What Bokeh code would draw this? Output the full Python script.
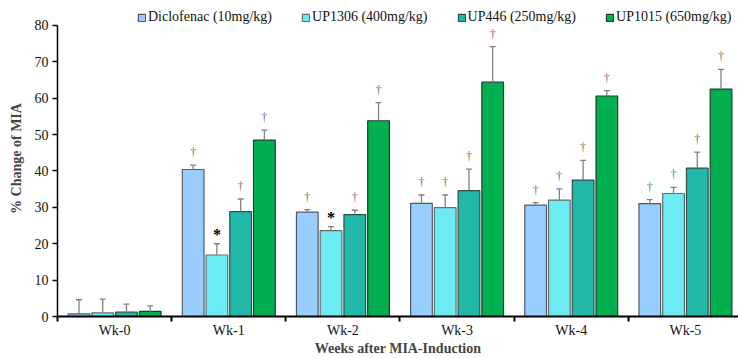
from bokeh.plotting import figure
from bokeh.models import Range1d, FixedTicker, Legend, LegendItem
from bokeh.core.properties import value
from bokeh.embed import file_html
from bokeh.resources import INLINE

weeks = ["Wk-0", "Wk-1", "Wk-2", "Wk-3", "Wk-4", "Wk-5"]
series = ["Diclofenac (10mg/kg)", "UP1306 (400mg/kg)", "UP446 (250mg/kg)", "UP1015 (650mg/kg)"]

diclofenac = [0.7, 40.4, 28.7, 31.1, 30.6, 31.0]
diclofenac_err = [3.9, 1.2, 0.7, 2.3, 0.7, 1.1]
up1306 = [1.0, 16.9, 23.6, 29.9, 32.0, 33.8]
up1306_err = [3.8, 3.1, 1.1, 3.5, 3.1, 1.7]
up446 = [1.2, 28.8, 28.0, 34.6, 37.5, 40.8]
up446_err = [2.2, 3.5, 1.2, 5.9, 5.4, 4.4]
up1015 = [1.4, 48.5, 53.8, 64.4, 60.6, 62.5]
up1015_err = [1.5, 2.7, 5.0, 9.8, 1.5, 5.4]

diclofenac_sig = ["", "†", "†", "†", "†", "†"]
up1306_sig = ["", "*", "*", "†", "†", "†"]
up446_sig = ["", "†", "†", "†", "†", "†"]
up1015_sig = ["", "†", "†", "†", "†", "†"]

y_ticks = [0, 10, 20, 30, 40, 50, 60, 70, 80]

values = [diclofenac, up1306, up446, up1015]
errors = [diclofenac_err, up1306_err, up446_err, up1015_err]
sigs = [diclofenac_sig, up1306_sig, up446_sig, up1015_sig]

fills = ["#99CCFF", "#6CECF2", "#22B8A8", "#00B050"]
outlines = ["#505A66", "#6A6A6A", "#2F4F4A", "#1F3F2A"]
offsets = [-0.312, -0.104, 0.104, 0.312]
bar_w = 0.19
FONT = "Liberation Serif"
FS = "14px"

# frame spans the full height above the x axis; the y axis itself is bounded to 0..80
p = figure(width=738, height=358, x_range=Range1d(0, 5.965), y_range=Range1d(0, 86.85),
           output_backend="svg", toolbar_location=None,
           min_border_left=57, min_border_right=0, min_border_top=0, min_border_bottom=41)
p.outline_line_color = None
p.xgrid.visible = False
p.ygrid.visible = False
p.background_fill_color = "white"

items = []
for k in range(4):
    xs = [i + 0.5 + offsets[k] for i in range(len(weeks))]
    vals = values[k]
    tops = [v + e for v, e in zip(vals, errors[k])]
    r = p.vbar(x=xs, top=vals, bottom=0, width=bar_w, fill_color=fills[k],
               line_color=outlines[k], line_width=1.2)
    items.append(LegendItem(label=series[k], renderers=[r]))
    p.segment(x0=xs, y0=vals, x1=xs, y1=tops, line_color="#808080", line_width=1.3)
    p.scatter(x=xs, y=tops, marker="dash", size=6, line_color="#808080", line_width=1.3)
    dag_x = [x for x, s in zip(xs, sigs[k]) if s == "†"]
    dag_y = [t for t, s in zip(tops, sigs[k]) if s == "†"]
    p.text(x=dag_x, y=dag_y, text=["†"] * len(dag_x), text_align="center",
           text_baseline="bottom", y_offset=-6, text_font=value(FONT),
           text_font_size="12px", text_color="#707070")
    st_x = [x for x, s in zip(xs, sigs[k]) if s == "*"]
    st_y = [t for t, s in zip(tops, sigs[k]) if s == "*"]
    if st_x:
        p.text(x=st_x, y=st_y, text=["*"] * len(st_x), text_align="center",
               text_baseline="bottom", y_offset=-1, text_font=value(FONT),
               text_font_size="16px", text_font_style="bold", text_color="#000000")

legend = Legend(items=items, orientation="horizontal", location=(80, 291),
                glyph_width=9, glyph_height=9, label_standoff=2, spacing=29,
                padding=0, margin=0, border_line_color=None, background_fill_alpha=0,
                label_text_font=FONT, label_text_font_size=FS, label_height=10,
                label_text_color="#111111")
p.add_layout(legend, "center")

# x axis
p.xaxis.ticker = FixedTicker(ticks=[i + 0.5 for i in range(len(weeks))],
                             minor_ticks=list(range(len(weeks) + 1)))
p.xaxis.major_label_overrides = {i + 0.5: w for i, w in enumerate(weeks)}
p.xaxis.major_tick_out = 0
p.xaxis.major_tick_in = 0
p.xaxis.minor_tick_out = 5
p.xaxis.minor_tick_in = 0
p.xaxis.minor_tick_line_color = "black"
p.xaxis.minor_tick_line_width = 2
p.xaxis.axis_line_color = "black"
p.xaxis.axis_line_width = 2
p.xaxis.major_label_standoff = 1
p.xaxis.major_label_text_font = FONT
p.xaxis.major_label_text_font_size = FS
p.xaxis.major_label_text_color = "#111111"
p.xaxis.axis_label = "Weeks after MIA-Induction"
p.xaxis.axis_label_text_font = FONT
p.xaxis.axis_label_text_font_size = FS
p.xaxis.axis_label_text_font_style = "bold"
p.xaxis.axis_label_standoff = 0

# y axis
p.yaxis.ticker = FixedTicker(ticks=y_ticks, minor_ticks=[])
p.yaxis.bounds = (0, 80)
p.yaxis.major_tick_out = 5
p.yaxis.major_tick_in = 0
p.yaxis.major_tick_line_width = 1.5
p.yaxis.axis_line_color = "black"
p.yaxis.axis_line_width = 1.5
p.yaxis.major_label_standoff = 4
p.yaxis.major_label_text_font = FONT
p.yaxis.major_label_text_font_size = FS
p.yaxis.major_label_text_color = "#111111"
p.yaxis.axis_label = "% Change of MIA"
p.yaxis.axis_label_text_font = FONT
p.yaxis.axis_label_text_font_size = FS
p.yaxis.axis_label_text_font_style = "bold"
p.yaxis.axis_label_standoff = 8

open("out.html", "w").write(file_html(p, INLINE))
